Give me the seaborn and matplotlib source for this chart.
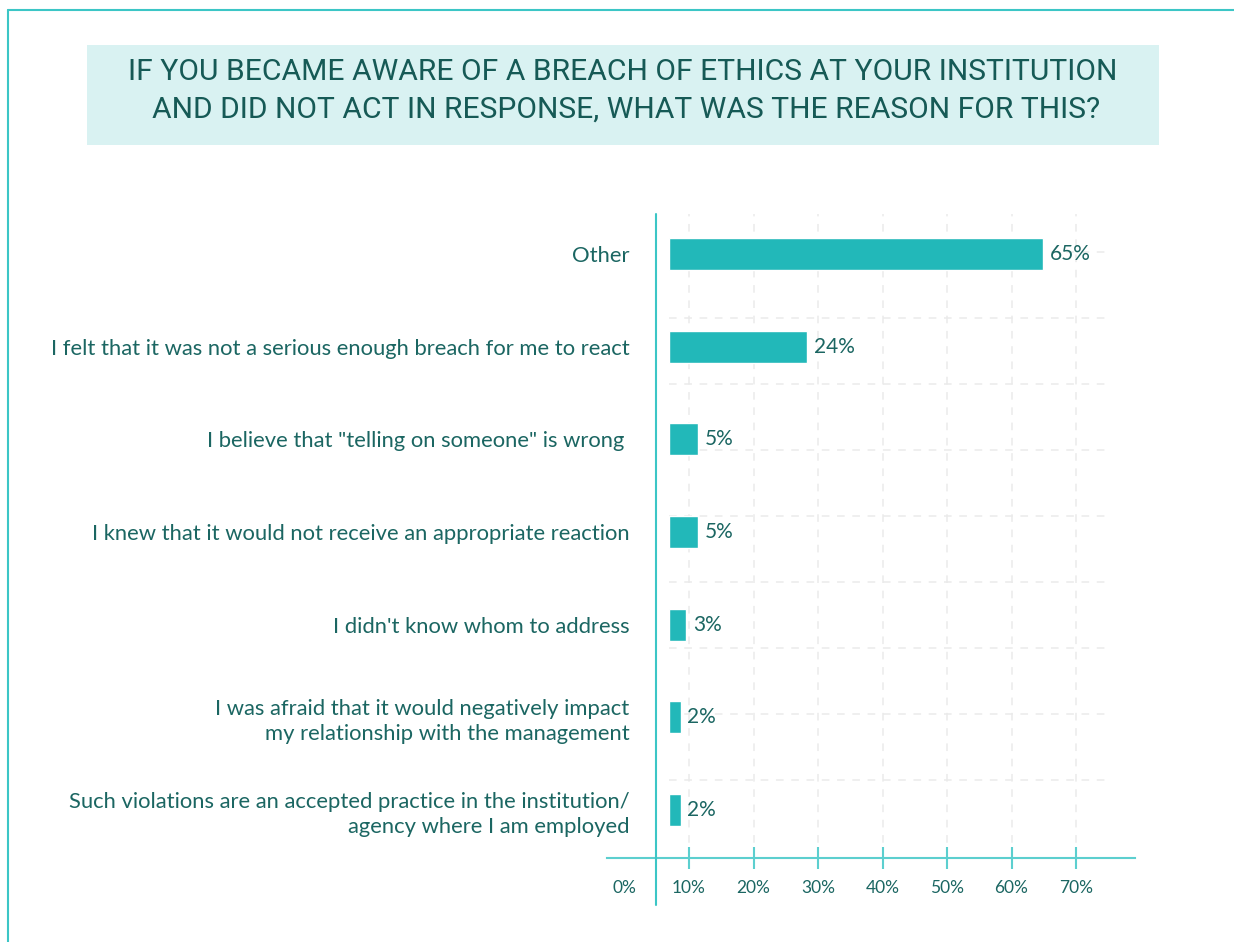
import pandas as pd
import seaborn as sns
import matplotlib.pyplot as plt
from matplotlib.lines import Line2D
from matplotlib.patches import Rectangle

# data
reasons = [
    "Other",
    "I felt that it was not a serious enough breach for me to react",
    'I believe that "telling on someone" is wrong ',
    "I knew that it would not receive an appropriate reaction",
    "I didn't know whom to address",
    "I was afraid that it would negatively impact\nmy relationship with the management",
    "Such violations are an accepted practice in the institution/\nagency where I am employed",
]
shares = [65, 24, 5, 5, 3, 2, 2]
tick_vals = [0, 10, 20, 30, 40, 50, 60, 70]
tick_labels = [f"{v}%" for v in tick_vals]

title_1 = "IF YOU BECAME AWARE OF A BREACH OF ETHICS AT YOUR INSTITUTION"
title_2 = "AND DID NOT ACT IN RESPONSE, WHAT WAS THE REASON FOR THIS?"

df = pd.DataFrame({"reason": reasons, "share": shares})

# colours
bar_col = "#22b8b9"
text_col = "#1b6662"
axis_col = "#5ccfcf"
frame_col = "#3cc6c6"
box_col = "#d9f2f2"
grid_col = "#ebebeb"

sns.set_theme(style="white")
plt.rcParams["font.family"] = ["Lato", "DejaVu Sans"]

W, H = 1234, 942
fig = plt.figure(figsize=(W / 100, H / 100), dpi=100)
fig.patch.set_facecolor("white")


def fx(px):
    return px / W


def fy(py):
    return 1 - py / H


top, bottom = 214, 858

# background horizontal grid
gax = fig.add_axes([fx(669), fy(bottom), fx(1107) - fx(669), fy(top) - fy(bottom)])
gax.set_facecolor("none")
gax.set_ylim(-1.18, 8.58)
gax.set_yticks(range(9))
gax.set_xticks([])
gax.tick_params(left=False, labelleft=False)
gax.grid(axis="y", linestyle=(0, (5, 5)), color=grid_col, lw=1.1)
for s in gax.spines.values():
    s.set_visible(False)

# percentage scale axis
tax = fig.add_axes([fx(607), fy(bottom), fx(1135) - fx(607), fy(top) - fy(bottom)])
tax.set_facecolor("none")
tpx = 6.45
tax.set_xlim((607 - 624.5) / tpx, (1135 - 624.5) / tpx)
tax.set_xticks(tick_vals)
tax.set_xticklabels(tick_labels)
tax.set_yticks([])
tax.tick_params(axis="x", direction="inout", length=16, width=1.5, color=axis_col,
                labelsize=12.5, labelcolor=text_col, pad=8, bottom=True)
tax.grid(axis="x", linestyle=(0, (5, 5)), color=grid_col, lw=1.1)
for name, s in tax.spines.items():
    s.set_visible(name == "bottom")
tax.spines["bottom"].set_color(axis_col)
tax.spines["bottom"].set_linewidth(1.5)
t0 = tax.xaxis.get_major_ticks()[0]
t0.tick1line.set_visible(False)
t0.gridline.set_visible(False)

# bars
ax = fig.add_axes([fx(656), fy(bottom), fx(1135) - fx(656), fy(top) - fy(bottom)])
ax.set_facecolor("none")
sns.barplot(data=df, x="share", y="reason", orient="h", color=bar_col,
            saturation=1, width=0.345, ax=ax)
bpx = (1043 - 669) / 65
ax.set_xlim((656 - 669) / bpx, (1135 - 669) / bpx)
ax.set_ylim(6.518, -0.432)
ax.set_xlabel("")
ax.set_ylabel("")
ax.set_xticks([])
ax.tick_params(axis="y", left=False, length=0, pad=19, labelsize=15.8, labelcolor=text_col)
for lab in ax.get_yticklabels():
    lab.set_linespacing(1.3)
for s in ax.spines.values():
    s.set_visible(False)
for c in ax.containers:
    ax.bar_label(c, labels=[f"{v}%" for v in shares], padding=5,
                 color=text_col, fontsize=15)

# vertical axis line
fig.add_artist(Line2D([fx(656), fx(656)], [fy(214), fy(905)], color=frame_col, lw=1.5,
                      transform=fig.transFigure))

# title box
fig.add_artist(Rectangle((fx(87), fy(145)), fx(1159) - fx(87), fy(45) - fy(145),
                         transform=fig.transFigure, facecolor=box_col, edgecolor="none", zorder=0))
fig.text(fx(623), fy(72), title_1, ha="center", va="center", fontsize=21.6,
         color="#165a56", family=["Roboto", "DejaVu Sans"])
fig.text(fx(626), fy(110), title_2, ha="center", va="center", fontsize=21.6,
         color="#165a56", family=["Roboto", "DejaVu Sans"])

# frame lines
fig.add_artist(Line2D([fx(8), 1], [fy(10), fy(10)], color=frame_col, lw=1.5, transform=fig.transFigure))
fig.add_artist(Line2D([fx(8), fx(8)], [fy(10), 0], color=frame_col, lw=1.5, transform=fig.transFigure))

fig.savefig("out.png", dpi=100)
